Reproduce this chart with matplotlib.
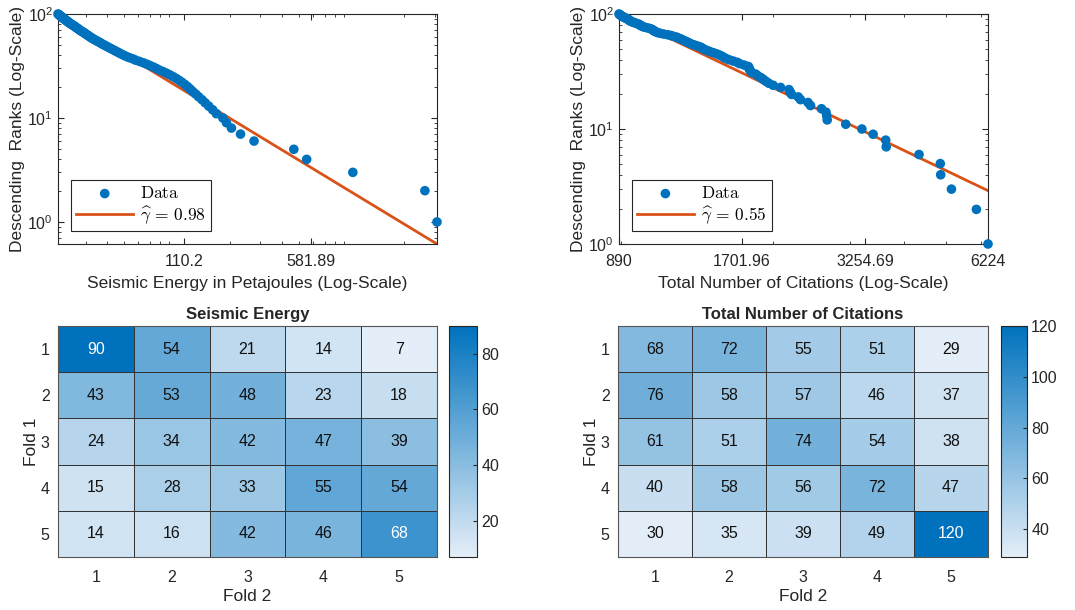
import numpy as np
import matplotlib.pyplot as plt
from matplotlib.colors import LinearSegmentedColormap
from matplotlib.font_manager import FontProperties
from matplotlib.ticker import NullFormatter, LogFormatterMathtext

plt.rcParams["font.family"] = ["Liberation Sans", "DejaVu Sans"]
plt.rcParams["mathtext.fontset"] = "custom"
plt.rcParams["mathtext.rm"] = "Liberation Sans"
plt.rcParams["mathtext.it"] = "Liberation Sans:italic"

# descending ranks 1..100 and the values
ranks = list(range(1, 101))
energy = [
    3072, 2620, 1014, 552, 466, 276, 231, 205, 192, 183,
    168, 160, 152, 145, 139, 133, 128, 123, 119, 115,
    111, 107, 103, 99, 95, 91, 87, 83, 79, 76,
    73, 70, 67, 64, 61, 58, 56, 53.5, 51.5, 49.8,
    48.3, 47.0, 45.8, 44.6, 43.5, 42.4, 41.4, 40.4, 39.5, 38.6,
    37.8, 37.0, 36.3, 35.6, 34.9, 34.2, 33.6, 33.0, 32.4, 31.9,
    31.5, 31.1, 30.6, 30.2, 29.8, 29.4, 29.0, 28.6, 28.2, 27.8,
    27.5, 27.2, 26.9, 26.6, 26.3, 26.0, 25.7, 25.4, 25.1, 24.8,
    24.55, 24.3, 24.05, 23.8, 23.6, 23.4, 23.2, 23.0, 22.75, 22.5,
    22.35, 22.2, 22.05, 21.9, 21.7, 21.5, 21.35, 21.2, 21.05, 20.87,
]
citations = [
    6224, 5855, 5133, 4850, 4840, 4327, 3640, 3630, 3397, 3201,
    2941, 2667, 2660, 2650, 2588, 2442, 2410, 2317, 2290, 2210,
    2195, 2180, 2085, 2006, 1960, 1930, 1905, 1880, 1850, 1830,
    1790, 1780, 1770, 1765, 1760, 1720, 1680, 1660, 1625, 1590,
    1565, 1545, 1530, 1510, 1490, 1465, 1440, 1420, 1400, 1385,
    1375, 1360, 1340, 1320, 1300, 1290, 1275, 1265, 1250, 1240,
    1230, 1215, 1205, 1185, 1170, 1150, 1125, 1105, 1090, 1080,
    1072, 1068, 1062, 1055, 1045, 1030, 1015, 1008, 1000, 995,
    990, 985, 975, 965, 958, 950, 944, 940, 937, 934,
    928, 922, 917, 912, 907, 903, 899, 896, 893, 890,
]

# fitted power-law lines (end points)
energy_fit_x = [20.87, 3072.6]
energy_fit_y = [100, 0.614]
citation_fit_x = [890, 6224]
citation_fit_y = [100, 2.91]
gamma_energy = 0.98
gamma_citations = 0.55

energy_xticks = [110.2, 581.89]
citation_xticks = [890, 1701.96, 3254.69, 6224]

energy_matrix = [
    [90, 54, 21, 14, 7],
    [43, 53, 48, 23, 18],
    [24, 34, 42, 47, 39],
    [15, 28, 33, 55, 54],
    [14, 16, 42, 46, 68],
]
citation_matrix = [
    [68, 72, 55, 51, 29],
    [76, 58, 57, 46, 37],
    [61, 51, 74, 54, 38],
    [40, 58, 56, 72, 47],
    [30, 35, 39, 49, 120],
]
folds = [1, 2, 3, 4, 5]

BLUE = "#0072BD"
ORANGE = "#D95319"
TXT = "#262626"
cmap = LinearSegmentedColormap.from_list("mblue", ["#E4EEF8", BLUE])

W, H = 1075, 610
fig = plt.figure(figsize=(W / 100, H / 100), dpi=100)


def px_axes(x0, y0, x1, y1):
    return fig.add_axes([x0 / W, 1 - y1 / H, (x1 - x0) / W, (y1 - y0) / H])


def rank_plot(ax, x, fit_x, fit_y, gamma, xticks, xlim, ylim, xlabel):
    ax.scatter(x, ranks, s=48, color=BLUE, edgecolors="none", zorder=3,
               clip_on=False, label=r"$\mathrm{Data}$")
    ax.plot(fit_x, fit_y, color=ORANGE, lw=2, zorder=2,
            label=r"$\widehat{\gamma}\, =\, %.2f$" % gamma)
    ax.set_xscale("log")
    ax.set_yscale("log")
    ax.set_xlim(*xlim)
    ax.set_ylim(*ylim)
    ax.set_xticks(xticks)
    ax.set_xticklabels([("%g" % t) for t in xticks])
    ax.xaxis.set_minor_formatter(NullFormatter())
    ax.yaxis.set_major_formatter(LogFormatterMathtext())
    ax.tick_params(which="both", direction="in", top=True, right=True,
                   labelsize=11.5, colors=TXT)
    ax.tick_params(axis="x", pad=7)
    ax.tick_params(which="major", length=4)
    ax.tick_params(which="minor", length=2)
    for s in ax.spines.values():
        s.set_color(TXT)
        s.set_linewidth(0.8)
    ax.set_xlabel(xlabel, fontsize=12.5, color=TXT, labelpad=5)
    ax.set_ylabel("Descending  Ranks (Log-Scale)", fontsize=12.5, color=TXT,
                  labelpad=2)
    leg = ax.legend(loc="lower left", bbox_to_anchor=(0.034, 0.057),
                    borderaxespad=0, fancybox=False, edgecolor=TXT,
                    framealpha=1, handlelength=3.3, handletextpad=0.4,
                    prop=FontProperties(size=12.5, math_fontfamily="cm"),
                    borderpad=0.3, labelspacing=0.15)
    leg.get_frame().set_linewidth(0.8)


ax1 = px_axes(58, 14, 437, 244)
rank_plot(ax1, energy, energy_fit_x, energy_fit_y, gamma_energy,
          energy_xticks, (20.87, 3072.6), (0.614, 100),
          "Seismic Energy in Petajoules (Log-Scale)")

ax2 = px_axes(619, 14, 988, 244)
rank_plot(ax2, citations, citation_fit_x, citation_fit_y, gamma_citations,
          citation_xticks, (890, 6224), (1, 100),
          "Total Number of Citations (Log-Scale)")


def heat(ax, cax, matrix, title, cticks):
    m = np.array(matrix, dtype=float)
    vmin, vmax = m.min(), m.max()
    mesh = ax.pcolormesh(np.arange(6) + 0.5, np.arange(6) + 0.5, m, cmap=cmap,
                         vmin=vmin, vmax=vmax, edgecolors="#333333",
                         linewidth=0.6)
    ax.set_xlim(0.5, 5.5)
    ax.set_ylim(5.5, 0.5)
    ax.set_xticks(folds)
    ax.set_yticks(folds)
    ax.tick_params(length=0, labelsize=11.5, colors=TXT)
    ax.tick_params(axis="x", pad=9)
    ax.tick_params(axis="y", pad=6)
    for s in ax.spines.values():
        s.set_color("#555555")
        s.set_linewidth(0.8)
    for i in range(5):
        for j in range(5):
            v = m[i, j]
            c = "white" if (v - vmin) / (vmax - vmin) > 0.68 else "#111111"
            ax.text(j + 1, i + 1, "%d" % v, ha="center", va="center",
                    fontsize=11.5, color=c)
    ax.set_xlabel("Fold 2", fontsize=12.5, color=TXT, labelpad=3)
    ax.set_ylabel("Fold 1", fontsize=12.5, color=TXT, labelpad=1)
    ax.set_title(title, fontsize=12, fontweight="bold", color=TXT, pad=5)
    cb = fig.colorbar(mesh, cax=cax)
    cb.set_ticks(cticks)
    cb.outline.set_edgecolor(TXT)
    cb.outline.set_linewidth(0.8)
    cax.tick_params(direction="in", length=3, labelsize=11.5, colors=TXT, pad=3)


ax3 = px_axes(58, 326, 437, 557)
cax3 = px_axes(449, 326, 477, 557)
heat(ax3, cax3, energy_matrix, "Seismic Energy", [20, 40, 60, 80])

ax4 = px_axes(618, 326, 988, 557)
cax4 = px_axes(1001, 326, 1027, 557)
heat(ax4, cax4, citation_matrix, "Total Number of Citations", [40, 60, 80, 100, 120])

fig.savefig("out.png", dpi=100)
